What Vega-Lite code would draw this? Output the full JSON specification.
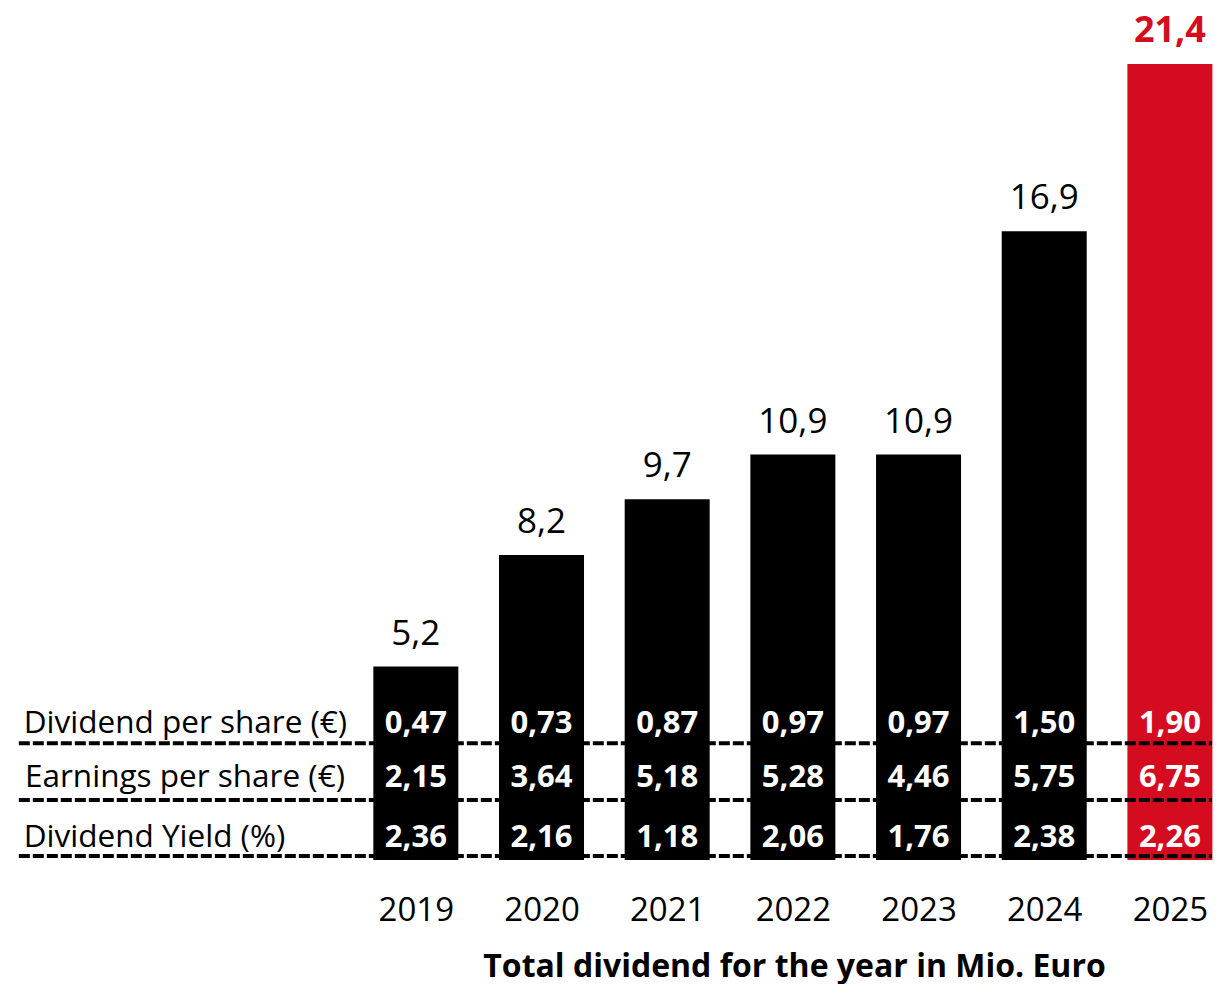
{
  "$schema": "https://vega.github.io/schema/vega-lite/v6.json",
  "width": 1217,
  "height": 860,
  "autosize": {"type": "none"},
  "padding": {"left": 0, "top": 0, "right": 0, "bottom": 124},
  "background": "white",
  "config": {
    "view": {"stroke": null},
    "locale": {"number": {"decimal": ",", "thousands": ".", "grouping": [3], "currency": ["", " €"]}},
    "text": {"font": "Open Sans"}
  },
  "datasets": {
    "years": [
      {"year": 2019, "total": 5.2, "dps": 0.47, "eps": 2.15, "yield": 2.36},
      {"year": 2020, "total": 8.2, "dps": 0.73, "eps": 3.64, "yield": 2.16},
      {"year": 2021, "total": 9.7, "dps": 0.87, "eps": 5.18, "yield": 1.18},
      {"year": 2022, "total": 10.9, "dps": 0.97, "eps": 5.28, "yield": 2.06},
      {"year": 2023, "total": 10.9, "dps": 0.97, "eps": 4.46, "yield": 1.76},
      {"year": 2024, "total": 16.9, "dps": 1.50, "eps": 5.75, "yield": 2.38},
      {"year": 2025, "total": 21.4, "dps": 1.90, "eps": 6.75, "yield": 2.26}
    ]
  },
  "layer": [
    {
      "data": {"name": "years"},
      "mark": {"type": "bar", "size": 85},
      "encoding": {
        "x": {
          "field": "year", "type": "quantitative",
          "scale": {"domain": [2015.731, 2025.335], "nice": false, "zero": false},
          "axis": {
            "values": [2019, 2020, 2021, 2022, 2023, 2024, 2025],
            "format": "d",
            "labelFont": "Open Sans", "labelFontSize": 33, "labelColor": "black",
            "labelBaseline": "alphabetic", "labelPadding": 60,
            "ticks": false, "tickSize": 0, "domain": false, "grid": false,
            "labelFlush": false, "labelOverlap": false,
            "title": "Total dividend for the year in Mio. Euro",
            "titleFont": "Open Sans", "titleFontSize": 32, "titleFontWeight": "bold", "titleColor": "black",
            "titleX": 794, "titleY": 116, "titleBaseline": "alphabetic", "titleAlign": "center"
          }
        },
        "y": {"field": "total", "type": "quantitative", "scale": {"domain": [0, 23.12], "nice": false}, "axis": null},
        "color": {"condition": {"test": "datum.year === 2025", "value": "#D50C1F"}, "value": "#000000"}
      }
    },
    {
      "data": {"values": [{"row": "Dividend per share (€)"}]},
      "mark": {"type": "rule", "strokeDash": [11, 3], "strokeWidth": 4, "color": "#000000"},
      "encoding": {
        "x": {"datum": 2015.841, "type": "quantitative", "scale": {"domain": [2015.731, 2025.335], "nice": false, "zero": false}},
        "x2": {"datum": 2025.335},
        "y": {"datum": 3.137, "type": "quantitative", "scale": {"domain": [0, 23.12], "nice": false}}
      }
    },
    {
      "data": {"values": [{"row": "Earnings per share (€)"}]},
      "mark": {"type": "rule", "strokeDash": [11, 3], "strokeWidth": 4, "color": "#000000"},
      "encoding": {
        "x": {"datum": 2015.841, "type": "quantitative", "scale": {"domain": [2015.731, 2025.335], "nice": false, "zero": false}},
        "x2": {"datum": 2025.335},
        "y": {"datum": 1.613, "type": "quantitative", "scale": {"domain": [0, 23.12], "nice": false}}
      }
    },
    {
      "data": {"values": [{"row": "Dividend Yield (%)"}]},
      "mark": {"type": "rule", "strokeDash": [11, 3], "strokeWidth": 4, "color": "#000000"},
      "encoding": {
        "x": {"datum": 2015.841, "type": "quantitative", "scale": {"domain": [2015.731, 2025.335], "nice": false, "zero": false}},
        "x2": {"datum": 2025.335},
        "y": {"datum": 0.108, "type": "quantitative", "scale": {"domain": [0, 23.12], "nice": false}}
      }
    },
    {
      "data": {"values": [{"row": "Dividend per share (€)"}]},
      "mark": {"type": "text", "align": "left", "baseline": "alphabetic", "font": "Open Sans", "fontSize": 31.5, "color": "#000000"},
      "encoding": {
        "x": {"datum": 2015.88, "type": "quantitative", "scale": {"domain": [2015.731, 2025.335], "nice": false, "zero": false}},
        "y": {"datum": 3.422, "type": "quantitative", "scale": {"domain": [0, 23.12], "nice": false}},
        "text": {"field": "row"}
      }
    },
    {
      "data": {"values": [{"row": "Earnings per share (€)"}]},
      "mark": {"type": "text", "align": "left", "baseline": "alphabetic", "font": "Open Sans", "fontSize": 31.5, "color": "#000000"},
      "encoding": {
        "x": {"datum": 2015.89, "type": "quantitative", "scale": {"domain": [2015.731, 2025.335], "nice": false, "zero": false}},
        "y": {"datum": 1.970, "type": "quantitative", "scale": {"domain": [0, 23.12], "nice": false}},
        "text": {"field": "row"}
      }
    },
    {
      "data": {"values": [{"row": "Dividend Yield (%)"}]},
      "mark": {"type": "text", "align": "left", "baseline": "alphabetic", "font": "Open Sans", "fontSize": 31.5, "color": "#000000"},
      "encoding": {
        "x": {"datum": 2015.88, "type": "quantitative", "scale": {"domain": [2015.731, 2025.335], "nice": false, "zero": false}},
        "y": {"datum": 0.358, "type": "quantitative", "scale": {"domain": [0, 23.12], "nice": false}},
        "text": {"field": "row"}
      }
    },
    {
      "data": {"name": "years"},
      "mark": {"type": "text", "align": "center", "baseline": "alphabetic", "font": "Open Sans", "fontSize": 31, "fontWeight": "bold", "color": "#FFFFFF"},
      "encoding": {
        "x": {"field": "year", "type": "quantitative", "scale": {"domain": [2015.731, 2025.335], "nice": false, "zero": false}},
        "y": {"datum": 3.422, "type": "quantitative", "scale": {"domain": [0, 23.12], "nice": false}},
        "text": {"field": "dps", "type": "quantitative", "format": ".2f"}
      }
    },
    {
      "data": {"name": "years"},
      "mark": {"type": "text", "align": "center", "baseline": "alphabetic", "font": "Open Sans", "fontSize": 31, "fontWeight": "bold", "color": "#FFFFFF"},
      "encoding": {
        "x": {"field": "year", "type": "quantitative", "scale": {"domain": [2015.731, 2025.335], "nice": false, "zero": false}},
        "y": {"datum": 1.970, "type": "quantitative", "scale": {"domain": [0, 23.12], "nice": false}},
        "text": {"field": "eps", "type": "quantitative", "format": ".2f"}
      }
    },
    {
      "data": {"name": "years"},
      "mark": {"type": "text", "align": "center", "baseline": "alphabetic", "font": "Open Sans", "fontSize": 31, "fontWeight": "bold", "color": "#FFFFFF"},
      "encoding": {
        "x": {"field": "year", "type": "quantitative", "scale": {"domain": [2015.731, 2025.335], "nice": false, "zero": false}},
        "y": {"datum": 0.358, "type": "quantitative", "scale": {"domain": [0, 23.12], "nice": false}},
        "text": {"field": "yield", "type": "quantitative", "format": ".2f"}
      }
    },
    {
      "data": {"name": "years"},
      "transform": [{"filter": "datum.year < 2025"}],
      "mark": {"type": "text", "align": "center", "baseline": "alphabetic", "dy": -22, "font": "Open Sans", "fontSize": 35, "color": "#000000"},
      "encoding": {
        "x": {"field": "year", "type": "quantitative", "scale": {"domain": [2015.731, 2025.335], "nice": false, "zero": false}},
        "y": {"field": "total", "type": "quantitative", "scale": {"domain": [0, 23.12], "nice": false}},
        "text": {"field": "total", "type": "quantitative", "format": ".1f"}
      }
    },
    {
      "data": {"name": "years"},
      "transform": [{"filter": "datum.year === 2025"}],
      "mark": {"type": "text", "align": "center", "baseline": "alphabetic", "dy": -22, "font": "Open Sans", "fontSize": 36, "fontWeight": "bold", "color": "#D50C1F"},
      "encoding": {
        "x": {"field": "year", "type": "quantitative", "scale": {"domain": [2015.731, 2025.335], "nice": false, "zero": false}},
        "y": {"field": "total", "type": "quantitative", "scale": {"domain": [0, 23.12], "nice": false}},
        "text": {"field": "total", "type": "quantitative", "format": ".1f"}
      }
    }
  ]
}
